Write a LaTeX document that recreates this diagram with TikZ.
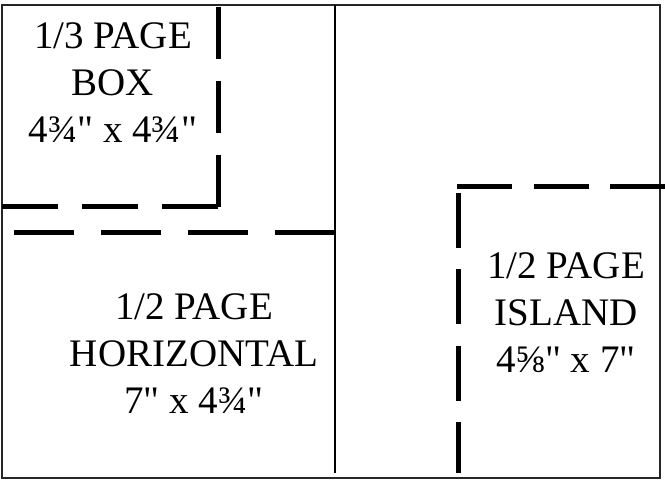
\documentclass[tikz,border=0pt]{standalone}
\usepackage{fontspec}
\setmainfont{Liberation Serif}[Ligatures=TeXOff]
\begin{document}
\begin{tikzpicture}[x=1pt,y=-1pt,
  frame/.style={draw=black!85,line width=1.6pt},
  divider/.style={draw=black,line width=1.5pt},
  cutAv/.style={draw=black,line width=5pt,dash pattern=on 52pt off 22pt},
  cutAh/.style={draw=black,line width=5pt,dash pattern=on 56pt off 24pt},
  cutB/.style={draw=black,line width=5pt,dash pattern=on 60pt off 27pt},
  cutC/.style={draw=black,line width=5pt,dash pattern=on 55pt off 21.5pt},
  lbl/.style={align=center,inner sep=0pt,font=\fontsize{39}{47}\selectfont}]
\useasboundingbox (0,0) rectangle (665,481);
% frame
\coordinate (tl) at (2,5);
\coordinate (br) at (660,478);
\draw[frame] (tl) rectangle (br);
% centre divider
\coordinate (mt) at (335,5);
\coordinate (mb) at (335,473);
\draw[divider] (mt) -- (mb);
% 1/3 page box
\coordinate (bc) at (218,207);
\coordinate (bt) at (218,5);
\coordinate (bl) at (2,207);
\draw[cutAv] (bc) -- (bt);
\draw[cutAh] (bc) -- (bl);
% 1/2 page horizontal
\coordinate (hr) at (335,233);
\coordinate (hl) at (13,233);
\draw[cutB] (hr) -- (hl);
% 1/2 page island
\coordinate (ic) at (457,187);
\coordinate (ir) at (665,187);
\coordinate (it) at (458,193);
\coordinate (ib) at (458,473);
\draw[cutC] (ic) -- (ir);
\draw[cutC] (it) -- (ib);
% labels
\node[lbl] (boxlbl) at (113,83) {1/3 PAGE\\BOX\\4¾" x 4¾"};
\node[lbl] (horlbl) at (194,354) {1/2 PAGE\\HORIZONTAL\\7" x 4¾"};
\node[lbl] (isllbl) at (566,313) {1/2 PAGE\\ISLAND\\4⅝" x 7"};
\end{tikzpicture}
\end{document}
